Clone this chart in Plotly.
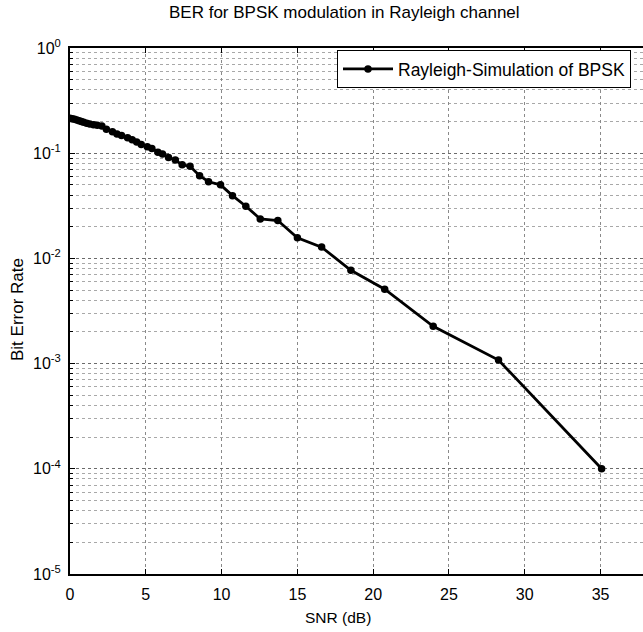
import plotly.graph_objects as go

# ---- data ----
snr_db = [0.0, 0.15, 0.3, 0.45, 0.6, 0.75, 0.9, 1.1, 1.3, 1.55, 1.8, 2.1, 2.4, 2.8,
          3.1, 3.4, 3.8, 4.1, 4.4, 4.7, 5.1, 5.4, 5.8, 6.1, 6.5, 6.95, 7.4, 7.92,
          8.55, 9.14, 9.93, 10.72, 11.6, 12.55, 13.71, 15.0, 16.6, 18.53, 20.76,
          23.96, 28.27, 35.07]
ber = [0.215, 0.213, 0.21, 0.207, 0.204, 0.2, 0.197, 0.193, 0.189, 0.186, 0.184,
       0.181, 0.169, 0.16, 0.152, 0.147, 0.14, 0.134, 0.128, 0.121, 0.115, 0.111,
       0.102, 0.098, 0.091, 0.086, 0.0775, 0.0752, 0.061, 0.0535, 0.05, 0.0395,
       0.0313, 0.0237, 0.0229, 0.0157, 0.0128, 0.0077, 0.0051, 0.00226, 0.00108,
       0.0001]
x_ticks = [0, 5, 10, 15, 20, 25, 30, 35]
y_exps = [0, -1, -2, -3, -4, -5]
series_name = "Rayleigh-Simulation of BPSK"
title_text = "BER for BPSK modulation in Rayleigh channel"
x_label = "SNR (dB)"
y_label = "Bit Error Rate"

W, H = 643, 632
L, R, T, B = 70, 0, 48, 58
PW, PH = W - L - R, H - T - B
FONT = "Liberation Sans, Arial, sans-serif"

def px(xp):
    return (xp - L) / PW

def py(yp):
    return (H - B - yp) / PH

y_tickvals = [10.0 ** e for e in y_exps]
y_ticktext = ["10<sup>%d</sup>" % e for e in y_exps]
minor_vals = [m * 10.0 ** e for e in range(-5, 0) for m in range(2, 10)]

fig = go.Figure()
fig.add_trace(go.Scatter(
    x=snr_db, y=ber, mode="lines+markers", name=series_name,
    line=dict(color="black", width=2.8),
    marker=dict(color="black", size=7.5, symbol="circle"),
))

fig.update_layout(
    width=W, height=H,
    margin=dict(l=L, r=R, t=T, b=B, pad=0),
    paper_bgcolor="white", plot_bgcolor="white",
    font=dict(family=FONT, size=16, color="black"),
    showlegend=True,
    legend=dict(x=px(337), y=py(50), xanchor="left", yanchor="top",
                bordercolor="black", borderwidth=1, bgcolor="white",
                font=dict(size=17.5, family=FONT), tracegroupgap=0,
                itemwidth=50),
    annotations=[
        dict(text=title_text, x=px(344), y=py(13), xref="paper", yref="paper",
             showarrow=False, font=dict(size=17, family=FONT), xanchor="center", yanchor="middle"),
        dict(text=x_label, x=px(338), y=py(617), xref="paper", yref="paper",
             showarrow=False, font=dict(size=15.5, family=FONT), xanchor="center", yanchor="middle"),
        dict(text=y_label, x=px(17), y=py(310), xref="paper", yref="paper",
             showarrow=False, textangle=-90, font=dict(size=17, family=FONT),
             xanchor="center", yanchor="middle"),
    ],
)

fig.update_xaxes(
    range=[0, 37.8], tickvals=x_ticks, ticks="inside", ticklen=5, tickcolor="black",
    showline=True, linecolor="black", linewidth=2, mirror="ticks",
    showgrid=True, gridcolor="#8a8a8a", griddash="dot", gridwidth=1,
    zeroline=False, tickfont=dict(size=16), ticklabelstandoff=5,
)
fig.update_yaxes(
    type="log", range=[-5, 0], tickvals=y_tickvals, ticktext=y_ticktext,
    ticks="inside", ticklen=5, tickcolor="black",
    showline=True, linecolor="black", linewidth=2, mirror=False,
    showgrid=True, gridcolor="#6a6a6a", griddash="dot", gridwidth=1,
    zeroline=False, tickfont=dict(size=16), ticklabelstandoff=4,
    minor=dict(tickvals=minor_vals, ticks="inside", ticklen=3, tickcolor="black",
               showgrid=True, gridcolor="#a8a8a8", griddash="dot", gridwidth=1),
)

fig.write_html("out.html", config={"displayModeBar": False},
               post_script="document.body.style.margin='0px';")
